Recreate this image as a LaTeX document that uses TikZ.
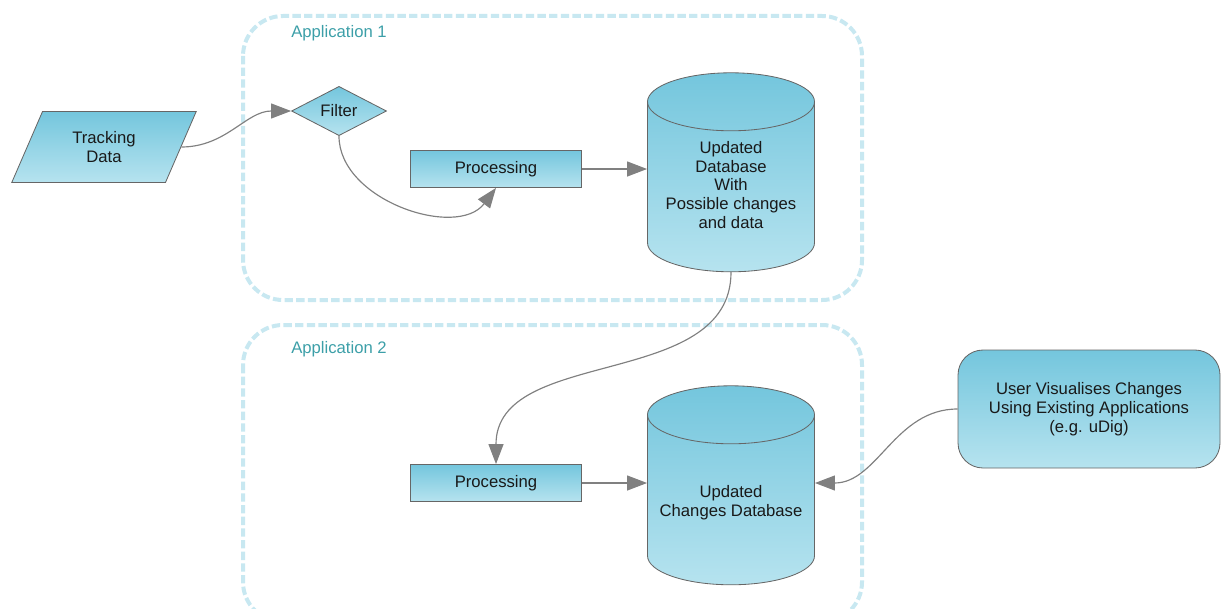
\documentclass[tikz,border=0pt]{standalone}
\usepackage{fontspec}
\setmainfont{Liberation Sans}
\usetikzlibrary{shapes.geometric,arrows.meta,positioning}
\definecolor{boxtop}{HTML}{74C6DD}
\definecolor{boxbot}{HTML}{B6E3EF}
\definecolor{linegrey}{HTML}{808080}
\definecolor{appframe}{HTML}{C8E8F1}
\definecolor{applabel}{HTML}{3C9FA8}
\tikzset{
  flow/.style={draw=black!60, line width=0.5pt, top color=boxtop, bottom color=boxbot,
    text=black!90, align=center, inner sep=0pt, font=\fontsize{10}{11.3}\selectfont},
  procbox/.style={flow, rectangle, minimum width=102.6pt, minimum height=22.2pt},
  database/.style={flow, cylinder, shape border rotate=90, aspect=0.6,
    minimum width=100.2pt, minimum height=119.4pt},
  dbtext/.style={align=center, inner sep=0pt, text=black!90, font=\fontsize{10}{11.3}\selectfont},
  userbox/.style={flow, rectangle, rounded corners=15pt, minimum width=157.2pt, minimum height=70.8pt},
  inputbox/.style={flow, trapezium, trapezium left angle=63, trapezium right angle=117,
    trapezium stretches=true, minimum width=111pt, minimum height=42.6pt},
  decision/.style={flow, diamond, minimum width=57pt, minimum height=28.2pt},
  appframe/.style={draw=appframe, line width=2.4pt, dash pattern=on 5pt off 2pt, rounded corners=24pt},
  applabel/.style={anchor=west, text=applabel, inner sep=0pt, font=\fontsize{10}{12}\selectfont},
  link/.style={draw=linegrey, line width=0.7pt, -{Triangle[length=12pt,width=9pt]}}
}
\begin{document}
\begin{tikzpicture}[x=0.6pt,y=0.6pt]
  \useasboundingbox (0,0) rectangle (1228,-608);
  % application frames
  \begin{scope}
    \clip (0,0) rectangle (1228,-608);
    \draw[appframe] (243,-16) rectangle (862,-300);
    \draw[appframe] (243,-325) rectangle (862,-622);
  \end{scope}
  \path (291,-33) node[applabel] (app1) {Application 1};
  \path (291,-349) node[applabel] (app2) {Application 2};
  % application 1
  \path (104,-147) node[inputbox] (track) {Tracking\\Data};
  \path (339,-111) node[decision] (filter) {Filter};
  \path (496,-169) node[procbox] (proc1) {Processing};
  \path (731,-187) node[database] (db1) {\hspace*{58pt}};
  \path (db1.center) ++(0,2) node[dbtext] (db1text) {Updated\\Database\\With\\Possible changes\\and data};
  % application 2
  \path (496,-483) node[procbox] (proc2) {Processing};
  \path (731,-500) node[database] (db2) {\hspace*{58pt}};
  \path (db2.center) ++(0,-3) node[dbtext] (db2text) {Updated\\Changes Database};
  \path (1089,-409) node[userbox] (user) {User Visualises Changes\\Using Existing Applications\\(e.g. uDig)};
  % connectors
  \draw[link] (track.east) to[out=0,in=180] (filter.west);
  \draw[link] (filter.south) to[out=-90,in=-127] (proc1.south);
  \draw[link] (proc1.east) -- (proc1.east -| db1.west);
  \draw[link] (db1.south) to[out=-90,in=90] (proc2.north);
  \draw[link] (proc2.east) -- (proc2.east -| db2.west);
  \draw[link] (user.west) to[out=180,in=0] (proc2.east -| db2.east);
\end{tikzpicture}
\end{document}
